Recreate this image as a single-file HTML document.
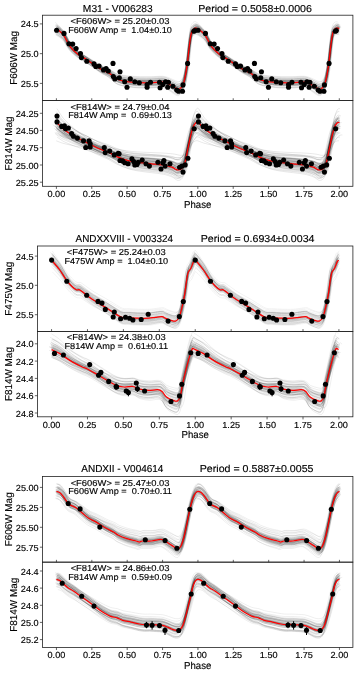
<!DOCTYPE html><html><head><meta charset="utf-8"><style>html,body{margin:0;padding:0;background:#fff;}svg{display:block;will-change:transform;text-rendering:geometricPrecision;}text{font-family:"Liberation Sans",sans-serif;fill:#000;stroke:#000;stroke-width:0.14px;}</style></head><body>
<svg width="357" height="675" viewBox="0 0 357 675">
<rect width="357" height="675" fill="#fff"/>
<defs><filter id="bl" x="-5%" y="-20%" width="110%" height="140%"><feGaussianBlur stdDeviation="0.55"/></filter></defs>
<clipPath id="c00"><rect x="42.45" y="15.2" width="310.45" height="85.35"/></clipPath>
<defs><path id="p00" d="M56.10,28.60 C56.75,29.08 58.62,30.22 60.00,31.50 C61.38,32.78 62.73,33.82 64.40,36.30 C66.07,38.78 67.75,43.42 70.00,46.40 C72.25,49.38 75.10,51.97 77.90,54.20 C80.70,56.43 83.07,57.37 86.80,59.80 C90.53,62.23 96.57,66.55 100.30,68.80 C104.03,71.05 106.25,71.52 109.20,73.30 C112.15,75.08 114.67,78.08 118.00,79.50 C121.33,80.92 125.47,81.27 129.20,81.80 C132.93,82.33 136.67,82.55 140.40,82.70 C144.13,82.85 147.87,82.78 151.60,82.70 C155.33,82.62 159.82,81.90 162.80,82.20 C165.78,82.50 167.45,83.57 169.50,84.50 C171.55,85.43 173.42,87.05 175.10,87.80 C176.78,88.55 178.28,89.55 179.60,89.00 C180.92,88.45 182.10,86.38 183.00,84.50 C183.90,82.62 184.27,81.25 185.00,77.70 C185.73,74.15 186.73,68.05 187.40,63.20 C188.07,58.35 188.42,53.30 189.00,48.60 C189.58,43.90 190.30,38.07 190.90,35.00 C191.50,31.93 191.88,31.33 192.60,30.20 C193.32,29.07 194.38,28.47 195.20,28.20 C196.02,27.93 196.51,28.05 197.55,28.60 C198.59,29.15 200.07,30.22 201.45,31.50 C202.83,32.78 204.18,33.82 205.85,36.30 C207.52,38.78 209.20,43.42 211.45,46.40 C213.70,49.38 216.55,51.97 219.35,54.20 C222.15,56.43 224.52,57.37 228.25,59.80 C231.98,62.23 238.02,66.55 241.75,68.80 C245.48,71.05 247.70,71.52 250.65,73.30 C253.60,75.08 256.12,78.08 259.45,79.50 C262.78,80.92 266.92,81.27 270.65,81.80 C274.38,82.33 278.12,82.55 281.85,82.70 C285.58,82.85 289.32,82.78 293.05,82.70 C296.78,82.62 301.27,81.90 304.25,82.20 C307.23,82.50 308.90,83.57 310.95,84.50 C313.00,85.43 314.87,87.05 316.55,87.80 C318.23,88.55 319.73,89.55 321.05,89.00 C322.37,88.45 323.55,86.38 324.45,84.50 C325.35,82.62 325.72,81.25 326.45,77.70 C327.18,74.15 328.18,68.05 328.85,63.20 C329.52,58.35 329.87,53.30 330.45,48.60 C331.03,43.90 331.75,38.07 332.35,35.00 C332.95,31.93 333.33,31.33 334.05,30.20 C334.77,29.07 335.78,28.47 336.65,28.20 C337.52,27.93 338.82,28.53 339.25,28.60" vector-effect="non-scaling-stroke"/></defs>
<g clip-path="url(#c00)">
<g fill="none" stroke="#000" stroke-width="0.9" stroke-opacity="0.08" filter="url(#bl)"><use href="#p00" transform="translate(0.05,-3.93) scale(1,1.103)"/><use href="#p00" transform="translate(0.03,1.12) scale(1,0.939)"/><use href="#p00" transform="translate(0.16,1.71) scale(1,0.918)"/><use href="#p00" transform="translate(-0.73,-0.14) scale(1,1.011)"/><use href="#p00" transform="translate(-1.20,-0.64) scale(1,1.000)"/><use href="#p00" transform="translate(1.91,-2.44) scale(1,1.043)"/><use href="#p00" transform="translate(0.99,-1.71) scale(1,1.016)"/><use href="#p00" transform="translate(-0.29,0.20) scale(1,1.016)"/><use href="#p00" transform="translate(0.56,0.32) scale(1,1.017)"/><use href="#p00" transform="translate(0.36,-3.05) scale(1,1.010)"/><use href="#p00" transform="translate(0.17,0.44) scale(1,1.006)"/><use href="#p00" transform="translate(0.16,-5.69) scale(1,1.087)"/><use href="#p00" transform="translate(-0.32,-5.58) scale(1,1.053)"/><use href="#p00" transform="translate(-0.07,5.41) scale(1,0.960)"/><use href="#p00" transform="translate(-0.22,-2.44) scale(1,1.052)"/><use href="#p00" transform="translate(-0.33,8.51) scale(1,0.876)"/><use href="#p00" transform="translate(-0.35,-6.22) scale(1,1.057)"/><use href="#p00" transform="translate(-1.04,-3.82) scale(1,1.101)"/><use href="#p00" transform="translate(0.58,5.67) scale(1,0.893)"/><use href="#p00" transform="translate(-0.79,-0.71) scale(1,1.013)"/><use href="#p00" transform="translate(-0.35,-1.24) scale(1,1.047)"/><use href="#p00" transform="translate(0.61,4.85) scale(1,0.885)"/><use href="#p00" transform="translate(-0.79,7.46) scale(1,0.861)"/><use href="#p00" transform="translate(0.01,-0.33) scale(1,0.990)"/><use href="#p00" transform="translate(1.07,-6.78) scale(1,1.120)"/><use href="#p00" transform="translate(0.30,-0.70) scale(1,0.989)"/><use href="#p00" transform="translate(0.13,12.72) scale(1,0.773)"/><use href="#p00" transform="translate(-0.45,6.13) scale(1,0.901)"/><use href="#p00" transform="translate(-0.78,10.64) scale(1,0.803)"/><use href="#p00" transform="translate(1.00,1.67) scale(1,0.958)"/><use href="#p00" transform="translate(0.31,-1.03) scale(1,1.008)"/><use href="#p00" transform="translate(-0.86,10.23) scale(1,0.855)"/><use href="#p00" transform="translate(-0.78,-4.59) scale(1,1.035)"/><use href="#p00" transform="translate(0.56,4.77) scale(1,0.968)"/><use href="#p00" transform="translate(-0.92,1.82) scale(1,0.952)"/><use href="#p00" transform="translate(0.58,-1.37) scale(1,0.997)"/><use href="#p00" transform="translate(-0.67,5.26) scale(1,0.891)"/><use href="#p00" transform="translate(0.10,4.15) scale(1,0.943)"/><use href="#p00" transform="translate(0.92,-1.10) scale(1,1.047)"/><use href="#p00" transform="translate(-1.41,6.90) scale(1,0.890)"/><use href="#p00" transform="translate(-0.15,3.25) scale(1,0.995)"/><use href="#p00" transform="translate(0.01,1.54) scale(1,0.970)"/><use href="#p00" transform="translate(0.87,-1.99) scale(1,1.002)"/><use href="#p00" transform="translate(0.25,-5.05) scale(1,1.071)"/><use href="#p00" transform="translate(0.31,-1.73) scale(1,1.053)"/><use href="#p00" transform="translate(-0.86,-4.23) scale(1,1.056)"/><use href="#p00" transform="translate(0.78,3.66) scale(1,0.960)"/><use href="#p00" transform="translate(0.25,-2.21) scale(1,1.012)"/><use href="#p00" transform="translate(-0.55,-5.86) scale(1,1.133)"/><use href="#p00" transform="translate(-0.91,-2.91) scale(1,0.997)"/><use href="#p00" transform="translate(0.77,-1.34) scale(1,1.015)"/><use href="#p00" transform="translate(1.06,-4.94) scale(1,1.101)"/><use href="#p00" transform="translate(0.40,0.03) scale(1,0.956)"/><use href="#p00" transform="translate(-0.92,-12.42) scale(1,1.214)"/><use href="#p00" transform="translate(-0.83,0.93) scale(1,1.019)"/><use href="#p00" transform="translate(1.02,-5.37) scale(1,1.064)"/><use href="#p00" transform="translate(1.60,-3.63) scale(1,1.063)"/><use href="#p00" transform="translate(1.48,0.18) scale(1,0.967)"/><use href="#p00" transform="translate(-0.03,7.57) scale(1,0.930)"/><use href="#p00" transform="translate(0.10,4.36) scale(1,0.917)"/></g>
<use href="#p00" fill="none" stroke="#f00" stroke-width="1.25"/>
<g fill="#000"><circle cx="56.6" cy="30.2" r="2.55"/><circle cx="64.0" cy="33.4" r="2.55"/><circle cx="68.9" cy="43.7" r="2.55"/><circle cx="72.7" cy="44.1" r="2.55"/><circle cx="76.1" cy="48.6" r="2.55"/><circle cx="80.5" cy="53.5" r="2.55"/><circle cx="81.4" cy="57.6" r="2.55"/><circle cx="86.8" cy="61.2" r="2.55"/><circle cx="94.0" cy="63.9" r="2.55"/><circle cx="95.8" cy="66.5" r="2.55"/><circle cx="99.1" cy="66.1" r="2.55"/><circle cx="103.5" cy="69.9" r="2.55"/><circle cx="106.1" cy="68.6" r="2.55"/><circle cx="108.3" cy="71.0" r="2.55"/><circle cx="113.0" cy="63.4" r="2.55"/><circle cx="113.3" cy="76.6" r="2.55"/><circle cx="114.8" cy="78.9" r="2.55"/><circle cx="119.3" cy="77.7" r="2.55"/><circle cx="120.0" cy="71.7" r="2.55"/><circle cx="124.7" cy="81.8" r="2.55"/><circle cx="127.0" cy="87.2" r="2.55"/><circle cx="130.3" cy="78.9" r="2.55"/><circle cx="134.8" cy="81.8" r="2.55"/><circle cx="139.3" cy="82.7" r="2.55"/><circle cx="147.1" cy="84.5" r="2.55"/><circle cx="147.1" cy="87.2" r="2.55"/><circle cx="150.5" cy="82.2" r="2.55"/><circle cx="159.5" cy="82.2" r="2.55"/><circle cx="160.1" cy="87.8" r="2.55"/><circle cx="162.8" cy="84.5" r="2.55"/><circle cx="165.5" cy="81.8" r="2.55"/><circle cx="168.4" cy="82.2" r="2.55"/><circle cx="167.7" cy="87.2" r="2.55"/><circle cx="172.9" cy="86.3" r="2.55"/><circle cx="176.7" cy="90.1" r="2.55"/><circle cx="178.5" cy="91.2" r="2.55"/><circle cx="182.5" cy="91.2" r="2.55"/><circle cx="183.0" cy="84.9" r="2.55"/><circle cx="187.6" cy="63.4" r="2.55"/><circle cx="193.9" cy="31.3" r="2.55"/><circle cx="194.9" cy="30.5" r="2.55"/></g><g fill="#000" transform="translate(141.45,0)"><circle cx="56.6" cy="30.2" r="2.55"/><circle cx="64.0" cy="33.4" r="2.55"/><circle cx="68.9" cy="43.7" r="2.55"/><circle cx="72.7" cy="44.1" r="2.55"/><circle cx="76.1" cy="48.6" r="2.55"/><circle cx="80.5" cy="53.5" r="2.55"/><circle cx="81.4" cy="57.6" r="2.55"/><circle cx="86.8" cy="61.2" r="2.55"/><circle cx="94.0" cy="63.9" r="2.55"/><circle cx="95.8" cy="66.5" r="2.55"/><circle cx="99.1" cy="66.1" r="2.55"/><circle cx="103.5" cy="69.9" r="2.55"/><circle cx="106.1" cy="68.6" r="2.55"/><circle cx="108.3" cy="71.0" r="2.55"/><circle cx="113.0" cy="63.4" r="2.55"/><circle cx="113.3" cy="76.6" r="2.55"/><circle cx="114.8" cy="78.9" r="2.55"/><circle cx="119.3" cy="77.7" r="2.55"/><circle cx="120.0" cy="71.7" r="2.55"/><circle cx="124.7" cy="81.8" r="2.55"/><circle cx="127.0" cy="87.2" r="2.55"/><circle cx="130.3" cy="78.9" r="2.55"/><circle cx="134.8" cy="81.8" r="2.55"/><circle cx="139.3" cy="82.7" r="2.55"/><circle cx="147.1" cy="84.5" r="2.55"/><circle cx="147.1" cy="87.2" r="2.55"/><circle cx="150.5" cy="82.2" r="2.55"/><circle cx="159.5" cy="82.2" r="2.55"/><circle cx="160.1" cy="87.8" r="2.55"/><circle cx="162.8" cy="84.5" r="2.55"/><circle cx="165.5" cy="81.8" r="2.55"/><circle cx="168.4" cy="82.2" r="2.55"/><circle cx="167.7" cy="87.2" r="2.55"/><circle cx="172.9" cy="86.3" r="2.55"/><circle cx="176.7" cy="90.1" r="2.55"/><circle cx="178.5" cy="91.2" r="2.55"/><circle cx="182.5" cy="91.2" r="2.55"/><circle cx="183.0" cy="84.9" r="2.55"/><circle cx="187.6" cy="63.4" r="2.55"/><circle cx="193.9" cy="31.3" r="2.55"/><circle cx="194.9" cy="30.5" r="2.55"/></g>
</g>
<text x="120.06" y="24.20" font-size="8.67" textLength="98.89" lengthAdjust="spacingAndGlyphs" text-anchor="middle" xml:space="preserve">&lt;F606W&gt; = 25.20±0.03</text>
<text x="120.06" y="33.10" font-size="8.67" textLength="103.75" lengthAdjust="spacingAndGlyphs" text-anchor="middle" xml:space="preserve">F606W Amp =  1.04±0.10</text>
<line x1="39.85" y1="23.9" x2="42.45" y2="23.9" stroke="#222" stroke-width="0.7"/>
<text x="38.65" y="27.40" font-size="8.80" textLength="17.81" lengthAdjust="spacingAndGlyphs" text-anchor="end" xml:space="preserve">24.5</text>
<line x1="39.85" y1="53.65" x2="42.45" y2="53.65" stroke="#222" stroke-width="0.7"/>
<text x="38.65" y="57.15" font-size="8.80" textLength="17.81" lengthAdjust="spacingAndGlyphs" text-anchor="end" xml:space="preserve">25.0</text>
<line x1="39.85" y1="83.4" x2="42.45" y2="83.4" stroke="#222" stroke-width="0.7"/>
<text x="38.65" y="86.90" font-size="8.80" textLength="17.81" lengthAdjust="spacingAndGlyphs" text-anchor="end" xml:space="preserve">25.5</text>
<text x="0.00" y="0.00" font-size="10.07" textLength="53.99" lengthAdjust="spacingAndGlyphs" text-anchor="middle" transform="translate(17.00,57.88) rotate(-90)" xml:space="preserve">F606W Mag</text>
<rect x="42.45" y="15.2" width="310.45" height="85.35" fill="none" stroke="#222" stroke-width="0.8"/>
<clipPath id="c01"><rect x="42.45" y="100.55" width="310.45" height="85.75000000000001"/></clipPath>
<defs><path id="p01" d="M56.55,122.30 C57.21,123.00 59.19,125.22 60.50,126.50 C61.81,127.78 61.88,128.25 64.40,130.00 C66.92,131.75 71.87,134.90 75.60,137.00 C79.33,139.10 83.07,140.73 86.80,142.60 C90.53,144.47 94.27,146.53 98.00,148.20 C101.73,149.87 105.87,151.12 109.20,152.60 C112.53,154.08 114.67,155.72 118.00,157.10 C121.33,158.48 125.47,159.97 129.20,160.90 C132.93,161.83 136.67,162.22 140.40,162.70 C144.13,163.18 147.87,163.42 151.60,163.80 C155.33,164.18 159.43,164.43 162.80,165.00 C166.17,165.57 169.37,166.38 171.80,167.20 C174.23,168.02 175.72,169.72 177.40,169.90 C179.08,170.08 180.60,169.68 181.90,168.30 C183.20,166.92 184.25,164.63 185.20,161.60 C186.15,158.57 186.67,154.50 187.60,150.10 C188.53,145.70 189.92,138.93 190.80,135.20 C191.68,131.47 192.10,129.73 192.90,127.70 C193.70,125.67 194.75,123.90 195.60,123.00 C196.45,122.10 196.94,121.72 198.00,122.30 C199.06,122.88 200.64,125.22 201.95,126.50 C203.26,127.78 203.33,128.25 205.85,130.00 C208.37,131.75 213.32,134.90 217.05,137.00 C220.78,139.10 224.52,140.73 228.25,142.60 C231.98,144.47 235.72,146.53 239.45,148.20 C243.18,149.87 247.32,151.12 250.65,152.60 C253.98,154.08 256.12,155.72 259.45,157.10 C262.78,158.48 266.92,159.97 270.65,160.90 C274.38,161.83 278.12,162.22 281.85,162.70 C285.58,163.18 289.32,163.42 293.05,163.80 C296.78,164.18 300.88,164.43 304.25,165.00 C307.62,165.57 310.82,166.38 313.25,167.20 C315.68,168.02 317.17,169.72 318.85,169.90 C320.53,170.08 322.05,169.68 323.35,168.30 C324.65,166.92 325.70,164.63 326.65,161.60 C327.60,158.57 328.12,154.50 329.05,150.10 C329.98,145.70 331.37,138.93 332.25,135.20 C333.13,131.47 333.55,129.73 334.35,127.70 C335.15,125.67 336.20,123.90 337.05,123.00 C337.90,122.10 339.05,122.42 339.45,122.30" vector-effect="non-scaling-stroke"/></defs>
<g clip-path="url(#c01)">
<g fill="none" stroke="#000" stroke-width="0.9" stroke-opacity="0.1" filter="url(#bl)"><use href="#p01" transform="translate(0.39,-70.94) scale(1,1.468)"/><use href="#p01" transform="translate(-1.40,-2.11) scale(1,1.029)"/><use href="#p01" transform="translate(-1.07,9.22) scale(1,0.917)"/><use href="#p01" transform="translate(-0.29,22.52) scale(1,0.831)"/><use href="#p01" transform="translate(-0.55,27.34) scale(1,0.819)"/><use href="#p01" transform="translate(-0.39,96.75) scale(1,0.360)"/><use href="#p01" transform="translate(0.23,22.08) scale(1,0.851)"/><use href="#p01" transform="translate(0.19,-4.78) scale(1,1.011)"/><use href="#p01" transform="translate(-1.27,49.04) scale(1,0.693)"/><use href="#p01" transform="translate(0.22,5.60) scale(1,0.959)"/><use href="#p01" transform="translate(-3.63,8.25) scale(1,0.951)"/><use href="#p01" transform="translate(-0.56,5.41) scale(1,0.953)"/><use href="#p01" transform="translate(-0.21,-44.97) scale(1,1.280)"/><use href="#p01" transform="translate(-1.76,63.28) scale(1,0.567)"/><use href="#p01" transform="translate(0.58,56.58) scale(1,0.658)"/><use href="#p01" transform="translate(-1.58,3.74) scale(1,0.972)"/><use href="#p01" transform="translate(-2.27,35.32) scale(1,0.761)"/><use href="#p01" transform="translate(-0.01,-10.71) scale(1,1.029)"/><use href="#p01" transform="translate(0.90,41.53) scale(1,0.748)"/><use href="#p01" transform="translate(-0.93,12.09) scale(1,0.869)"/><use href="#p01" transform="translate(0.16,1.39) scale(1,0.962)"/><use href="#p01" transform="translate(-0.57,-26.59) scale(1,1.174)"/><use href="#p01" transform="translate(0.73,-21.21) scale(1,1.132)"/><use href="#p01" transform="translate(-0.41,17.62) scale(1,0.909)"/><use href="#p01" transform="translate(-0.77,34.67) scale(1,0.759)"/><use href="#p01" transform="translate(0.63,30.35) scale(1,0.783)"/><use href="#p01" transform="translate(-0.28,66.91) scale(1,0.535)"/><use href="#p01" transform="translate(-1.45,9.79) scale(1,0.945)"/><use href="#p01" transform="translate(-0.01,-17.57) scale(1,1.109)"/><use href="#p01" transform="translate(-0.65,8.20) scale(1,0.930)"/><use href="#p01" transform="translate(0.95,-2.77) scale(1,1.060)"/><use href="#p01" transform="translate(-0.60,-21.04) scale(1,1.151)"/><use href="#p01" transform="translate(-1.41,-8.91) scale(1,1.101)"/><use href="#p01" transform="translate(0.19,-19.14) scale(1,1.148)"/><use href="#p01" transform="translate(2.16,-16.87) scale(1,1.141)"/><use href="#p01" transform="translate(0.26,-31.55) scale(1,1.247)"/><use href="#p01" transform="translate(0.23,-22.43) scale(1,1.152)"/><use href="#p01" transform="translate(1.40,17.23) scale(1,0.892)"/><use href="#p01" transform="translate(0.57,6.66) scale(1,0.955)"/><use href="#p01" transform="translate(0.21,3.41) scale(1,0.993)"/><use href="#p01" transform="translate(0.69,32.06) scale(1,0.753)"/><use href="#p01" transform="translate(0.21,-14.36) scale(1,1.118)"/><use href="#p01" transform="translate(1.37,-10.53) scale(1,1.033)"/><use href="#p01" transform="translate(-1.19,31.08) scale(1,0.806)"/><use href="#p01" transform="translate(-0.46,20.48) scale(1,0.859)"/><use href="#p01" transform="translate(0.65,23.88) scale(1,0.852)"/><use href="#p01" transform="translate(-0.86,-12.46) scale(1,1.074)"/><use href="#p01" transform="translate(-0.05,12.58) scale(1,0.898)"/><use href="#p01" transform="translate(-0.82,-23.03) scale(1,1.150)"/><use href="#p01" transform="translate(0.14,22.41) scale(1,0.871)"/><use href="#p01" transform="translate(0.58,-6.00) scale(1,1.043)"/><use href="#p01" transform="translate(0.80,-0.38) scale(1,1.025)"/><use href="#p01" transform="translate(2.95,82.61) scale(1,0.428)"/><use href="#p01" transform="translate(1.08,37.81) scale(1,0.740)"/><use href="#p01" transform="translate(-1.28,3.97) scale(1,0.999)"/><use href="#p01" transform="translate(-0.75,35.77) scale(1,0.748)"/><use href="#p01" transform="translate(0.27,32.94) scale(1,0.784)"/><use href="#p01" transform="translate(0.26,-2.04) scale(1,1.002)"/><use href="#p01" transform="translate(0.51,0.72) scale(1,0.976)"/><use href="#p01" transform="translate(0.70,-11.10) scale(1,1.074)"/></g>
<use href="#p01" fill="none" stroke="#f00" stroke-width="1.25"/>
<g fill="#000"><circle cx="57.0" cy="116.1" r="2.55"/><circle cx="57.0" cy="121.9" r="2.55"/><circle cx="61.7" cy="126.4" r="2.55"/><circle cx="64.4" cy="125.8" r="2.55"/><circle cx="65.5" cy="128.7" r="2.55"/><circle cx="68.4" cy="128.0" r="2.55"/><circle cx="71.6" cy="133.6" r="2.55"/><circle cx="73.4" cy="136.3" r="2.55"/><circle cx="77.4" cy="138.1" r="2.55"/><circle cx="83.5" cy="140.8" r="2.55"/><circle cx="85.7" cy="147.5" r="2.55"/><circle cx="89.1" cy="140.8" r="2.55"/><circle cx="90.2" cy="143.7" r="2.55"/><circle cx="90.2" cy="147.0" r="2.55"/><circle cx="104.3" cy="147.5" r="2.55"/><circle cx="105.2" cy="152.6" r="2.55"/><circle cx="109.7" cy="151.1" r="2.55"/><circle cx="114.2" cy="154.9" r="2.55"/><circle cx="118.2" cy="153.3" r="2.55"/><circle cx="120.0" cy="160.5" r="2.55"/><circle cx="119.1" cy="153.8" r="2.55"/><circle cx="122.5" cy="160.9" r="2.55"/><circle cx="124.7" cy="162.7" r="2.55"/><circle cx="128.1" cy="163.8" r="2.55"/><circle cx="131.9" cy="158.7" r="2.55"/><circle cx="133.7" cy="161.6" r="2.55"/><circle cx="134.8" cy="164.9" r="2.55"/><circle cx="137.0" cy="164.5" r="2.55"/><circle cx="138.2" cy="162.3" r="2.55"/><circle cx="142.2" cy="160.0" r="2.55"/><circle cx="146.0" cy="163.8" r="2.55"/><circle cx="149.4" cy="166.1" r="2.55"/><circle cx="157.9" cy="162.3" r="2.55"/><circle cx="161.0" cy="169.0" r="2.55"/><circle cx="162.8" cy="162.7" r="2.55"/><circle cx="163.9" cy="160.5" r="2.55"/><circle cx="165.1" cy="166.1" r="2.55"/><circle cx="170.0" cy="163.8" r="2.55"/><circle cx="179.6" cy="167.2" r="2.55"/><circle cx="181.9" cy="166.1" r="2.55"/><circle cx="185.2" cy="164.9" r="2.55"/><circle cx="183.0" cy="172.1" r="2.55"/><circle cx="187.9" cy="158.2" r="2.55"/><circle cx="194.2" cy="128.7" r="2.55"/></g><g fill="#000" transform="translate(141.45,0)"><circle cx="57.0" cy="116.1" r="2.55"/><circle cx="57.0" cy="121.9" r="2.55"/><circle cx="61.7" cy="126.4" r="2.55"/><circle cx="64.4" cy="125.8" r="2.55"/><circle cx="65.5" cy="128.7" r="2.55"/><circle cx="68.4" cy="128.0" r="2.55"/><circle cx="71.6" cy="133.6" r="2.55"/><circle cx="73.4" cy="136.3" r="2.55"/><circle cx="77.4" cy="138.1" r="2.55"/><circle cx="83.5" cy="140.8" r="2.55"/><circle cx="85.7" cy="147.5" r="2.55"/><circle cx="89.1" cy="140.8" r="2.55"/><circle cx="90.2" cy="143.7" r="2.55"/><circle cx="90.2" cy="147.0" r="2.55"/><circle cx="104.3" cy="147.5" r="2.55"/><circle cx="105.2" cy="152.6" r="2.55"/><circle cx="109.7" cy="151.1" r="2.55"/><circle cx="114.2" cy="154.9" r="2.55"/><circle cx="118.2" cy="153.3" r="2.55"/><circle cx="120.0" cy="160.5" r="2.55"/><circle cx="119.1" cy="153.8" r="2.55"/><circle cx="122.5" cy="160.9" r="2.55"/><circle cx="124.7" cy="162.7" r="2.55"/><circle cx="128.1" cy="163.8" r="2.55"/><circle cx="131.9" cy="158.7" r="2.55"/><circle cx="133.7" cy="161.6" r="2.55"/><circle cx="134.8" cy="164.9" r="2.55"/><circle cx="137.0" cy="164.5" r="2.55"/><circle cx="138.2" cy="162.3" r="2.55"/><circle cx="142.2" cy="160.0" r="2.55"/><circle cx="146.0" cy="163.8" r="2.55"/><circle cx="149.4" cy="166.1" r="2.55"/><circle cx="157.9" cy="162.3" r="2.55"/><circle cx="161.0" cy="169.0" r="2.55"/><circle cx="162.8" cy="162.7" r="2.55"/><circle cx="163.9" cy="160.5" r="2.55"/><circle cx="165.1" cy="166.1" r="2.55"/><circle cx="170.0" cy="163.8" r="2.55"/><circle cx="179.6" cy="167.2" r="2.55"/><circle cx="181.9" cy="166.1" r="2.55"/><circle cx="185.2" cy="164.9" r="2.55"/><circle cx="183.0" cy="172.1" r="2.55"/><circle cx="187.9" cy="158.2" r="2.55"/><circle cx="194.2" cy="128.7" r="2.55"/></g>
</g>
<text x="120.06" y="109.55" font-size="8.67" textLength="98.89" lengthAdjust="spacingAndGlyphs" text-anchor="middle" xml:space="preserve">&lt;F814W&gt; = 24.79±0.04</text>
<text x="120.06" y="118.45" font-size="8.67" textLength="103.75" lengthAdjust="spacingAndGlyphs" text-anchor="middle" xml:space="preserve">F814W Amp =  0.69±0.13</text>
<line x1="39.85" y1="113.3" x2="42.45" y2="113.3" stroke="#222" stroke-width="0.7"/>
<text x="38.65" y="116.80" font-size="8.80" textLength="22.90" lengthAdjust="spacingAndGlyphs" text-anchor="end" xml:space="preserve">24.25</text>
<line x1="39.85" y1="130.4" x2="42.45" y2="130.4" stroke="#222" stroke-width="0.7"/>
<text x="38.65" y="133.90" font-size="8.80" textLength="22.90" lengthAdjust="spacingAndGlyphs" text-anchor="end" xml:space="preserve">24.50</text>
<line x1="39.85" y1="147.7" x2="42.45" y2="147.7" stroke="#222" stroke-width="0.7"/>
<text x="38.65" y="151.20" font-size="8.80" textLength="22.90" lengthAdjust="spacingAndGlyphs" text-anchor="end" xml:space="preserve">24.75</text>
<line x1="39.85" y1="165.0" x2="42.45" y2="165.0" stroke="#222" stroke-width="0.7"/>
<text x="38.65" y="168.50" font-size="8.80" textLength="22.90" lengthAdjust="spacingAndGlyphs" text-anchor="end" xml:space="preserve">25.00</text>
<line x1="39.85" y1="182.2" x2="42.45" y2="182.2" stroke="#222" stroke-width="0.7"/>
<text x="38.65" y="185.70" font-size="8.80" textLength="22.90" lengthAdjust="spacingAndGlyphs" text-anchor="end" xml:space="preserve">25.25</text>
<text x="0.00" y="0.00" font-size="10.07" textLength="53.99" lengthAdjust="spacingAndGlyphs" text-anchor="middle" transform="translate(11.60,143.43) rotate(-90)" xml:space="preserve">F814W Mag</text>
<rect x="42.45" y="100.55" width="310.45" height="85.75" fill="none" stroke="#222" stroke-width="0.8"/>
<line x1="56.40" y1="98.25" x2="56.40" y2="100.55" stroke="#222" stroke-width="0.7"/>
<line x1="91.76" y1="98.25" x2="91.76" y2="100.55" stroke="#222" stroke-width="0.7"/>
<line x1="127.12" y1="98.25" x2="127.12" y2="100.55" stroke="#222" stroke-width="0.7"/>
<line x1="162.49" y1="98.25" x2="162.49" y2="100.55" stroke="#222" stroke-width="0.7"/>
<line x1="197.85" y1="98.25" x2="197.85" y2="100.55" stroke="#222" stroke-width="0.7"/>
<line x1="233.21" y1="98.25" x2="233.21" y2="100.55" stroke="#222" stroke-width="0.7"/>
<line x1="268.57" y1="98.25" x2="268.57" y2="100.55" stroke="#222" stroke-width="0.7"/>
<line x1="303.94" y1="98.25" x2="303.94" y2="100.55" stroke="#222" stroke-width="0.7"/>
<line x1="339.30" y1="98.25" x2="339.30" y2="100.55" stroke="#222" stroke-width="0.7"/>
<line x1="56.40" y1="186.3" x2="56.40" y2="188.9" stroke="#222" stroke-width="0.7"/>
<text x="56.40" y="197.10" font-size="8.80" textLength="17.81" lengthAdjust="spacingAndGlyphs" text-anchor="middle" xml:space="preserve">0.00</text>
<line x1="91.76" y1="186.3" x2="91.76" y2="188.9" stroke="#222" stroke-width="0.7"/>
<text x="91.76" y="197.10" font-size="8.80" textLength="17.81" lengthAdjust="spacingAndGlyphs" text-anchor="middle" xml:space="preserve">0.25</text>
<line x1="127.12" y1="186.3" x2="127.12" y2="188.9" stroke="#222" stroke-width="0.7"/>
<text x="127.12" y="197.10" font-size="8.80" textLength="17.81" lengthAdjust="spacingAndGlyphs" text-anchor="middle" xml:space="preserve">0.50</text>
<line x1="162.49" y1="186.3" x2="162.49" y2="188.9" stroke="#222" stroke-width="0.7"/>
<text x="162.49" y="197.10" font-size="8.80" textLength="17.81" lengthAdjust="spacingAndGlyphs" text-anchor="middle" xml:space="preserve">0.75</text>
<line x1="197.85" y1="186.3" x2="197.85" y2="188.9" stroke="#222" stroke-width="0.7"/>
<text x="197.85" y="197.10" font-size="8.80" textLength="17.81" lengthAdjust="spacingAndGlyphs" text-anchor="middle" xml:space="preserve">1.00</text>
<line x1="233.21" y1="186.3" x2="233.21" y2="188.9" stroke="#222" stroke-width="0.7"/>
<text x="233.21" y="197.10" font-size="8.80" textLength="17.81" lengthAdjust="spacingAndGlyphs" text-anchor="middle" xml:space="preserve">1.25</text>
<line x1="268.57" y1="186.3" x2="268.57" y2="188.9" stroke="#222" stroke-width="0.7"/>
<text x="268.57" y="197.10" font-size="8.80" textLength="17.81" lengthAdjust="spacingAndGlyphs" text-anchor="middle" xml:space="preserve">1.50</text>
<line x1="303.94" y1="186.3" x2="303.94" y2="188.9" stroke="#222" stroke-width="0.7"/>
<text x="303.94" y="197.10" font-size="8.80" textLength="17.81" lengthAdjust="spacingAndGlyphs" text-anchor="middle" xml:space="preserve">1.75</text>
<line x1="339.30" y1="186.3" x2="339.30" y2="188.9" stroke="#222" stroke-width="0.7"/>
<text x="339.30" y="197.10" font-size="8.80" textLength="17.81" lengthAdjust="spacingAndGlyphs" text-anchor="middle" xml:space="preserve">2.00</text>
<text x="197.67" y="207.90" font-size="10.07" textLength="27.32" lengthAdjust="spacingAndGlyphs" text-anchor="middle" xml:space="preserve">Phase</text>
<text x="82.88" y="11.60" font-size="10.07" textLength="69.85" lengthAdjust="spacingAndGlyphs" xml:space="preserve">M31 - V006283</text>
<text x="198.18" y="11.60" font-size="10.07" textLength="113.71" lengthAdjust="spacingAndGlyphs" xml:space="preserve">Period = 0.5058±0.0006</text>
<clipPath id="c10"><rect x="37.45" y="246.0" width="315.45" height="85.39999999999998"/></clipPath>
<defs><path id="p10" d="M51.60,260.20 C52.90,261.75 56.98,266.27 59.40,269.50 C61.82,272.73 64.05,276.80 66.10,279.60 C68.15,282.40 70.02,284.62 71.70,286.30 C73.38,287.98 74.88,289.10 76.20,289.70 C77.52,290.30 78.30,289.33 79.60,289.90 C80.90,290.47 81.77,291.45 84.00,293.10 C86.23,294.75 89.63,297.57 93.00,299.80 C96.37,302.03 100.53,304.22 104.20,306.50 C107.87,308.78 112.08,311.70 115.00,313.50 C117.92,315.30 119.47,316.60 121.70,317.30 C123.93,318.00 125.78,317.55 128.40,317.70 C131.02,317.85 134.03,318.12 137.40,318.20 C140.77,318.28 145.62,318.35 148.60,318.20 C151.58,318.05 153.07,317.57 155.30,317.30 C157.53,317.03 160.32,316.45 162.00,316.60 C163.68,316.75 163.90,317.57 165.40,318.20 C166.90,318.83 169.32,319.92 171.00,320.40 C172.68,320.88 174.18,321.55 175.50,321.10 C176.82,320.65 177.97,319.38 178.90,317.70 C179.83,316.02 180.17,314.73 181.10,311.00 C182.03,307.27 183.60,300.30 184.50,295.30 C185.40,290.30 185.90,284.78 186.50,281.00 C187.10,277.22 187.37,274.73 188.10,272.60 C188.83,270.47 189.97,270.07 190.90,268.20 C191.83,266.33 192.97,262.73 193.70,261.40 C194.43,260.07 193.72,258.85 195.28,260.20 C196.84,261.55 200.66,266.27 203.08,269.50 C205.50,272.73 207.73,276.80 209.78,279.60 C211.83,282.40 213.70,284.62 215.38,286.30 C217.06,287.98 218.56,289.10 219.88,289.70 C221.20,290.30 221.98,289.33 223.28,289.90 C224.58,290.47 225.45,291.45 227.68,293.10 C229.91,294.75 233.31,297.57 236.68,299.80 C240.05,302.03 244.21,304.22 247.88,306.50 C251.55,308.78 255.76,311.70 258.68,313.50 C261.60,315.30 263.15,316.60 265.38,317.30 C267.61,318.00 269.46,317.55 272.08,317.70 C274.70,317.85 277.71,318.12 281.08,318.20 C284.45,318.28 289.30,318.35 292.28,318.20 C295.26,318.05 296.75,317.57 298.98,317.30 C301.21,317.03 304.00,316.45 305.68,316.60 C307.36,316.75 307.58,317.57 309.08,318.20 C310.58,318.83 313.00,319.92 314.68,320.40 C316.36,320.88 317.86,321.55 319.18,321.10 C320.50,320.65 321.65,319.38 322.58,317.70 C323.51,316.02 323.85,314.73 324.78,311.00 C325.71,307.27 327.28,300.30 328.18,295.30 C329.08,290.30 329.58,284.78 330.18,281.00 C330.78,277.22 331.05,274.73 331.78,272.60 C332.51,270.47 333.65,270.07 334.58,268.20 C335.51,266.33 336.69,262.73 337.38,261.40 C338.07,260.07 338.50,260.40 338.73,260.20" vector-effect="non-scaling-stroke"/></defs>
<g clip-path="url(#c10)">
<g fill="none" stroke="#000" stroke-width="0.9" stroke-opacity="0.06" filter="url(#bl)"><use href="#p10" transform="translate(0.80,28.44) scale(1,0.902)"/><use href="#p10" transform="translate(-0.05,7.48) scale(1,0.959)"/><use href="#p10" transform="translate(-0.97,-9.26) scale(1,1.038)"/><use href="#p10" transform="translate(0.38,30.90) scale(1,0.897)"/><use href="#p10" transform="translate(-0.08,-34.11) scale(1,1.123)"/><use href="#p10" transform="translate(-0.23,12.06) scale(1,0.978)"/><use href="#p10" transform="translate(0.08,14.29) scale(1,0.937)"/><use href="#p10" transform="translate(-0.05,-5.28) scale(1,1.012)"/><use href="#p10" transform="translate(0.88,-5.55) scale(1,1.022)"/><use href="#p10" transform="translate(0.56,-10.53) scale(1,1.017)"/><use href="#p10" transform="translate(-1.18,31.57) scale(1,0.886)"/><use href="#p10" transform="translate(0.17,-3.07) scale(1,1.000)"/><use href="#p10" transform="translate(0.67,-77.87) scale(1,1.264)"/><use href="#p10" transform="translate(0.53,29.02) scale(1,0.894)"/><use href="#p10" transform="translate(0.08,2.12) scale(1,0.993)"/><use href="#p10" transform="translate(-0.65,23.86) scale(1,0.920)"/><use href="#p10" transform="translate(0.55,-45.84) scale(1,1.150)"/><use href="#p10" transform="translate(-0.48,1.42) scale(1,1.000)"/><use href="#p10" transform="translate(1.01,-24.55) scale(1,1.080)"/><use href="#p10" transform="translate(-0.62,-15.15) scale(1,1.050)"/><use href="#p10" transform="translate(1.31,-17.64) scale(1,1.061)"/><use href="#p10" transform="translate(0.41,9.21) scale(1,0.970)"/><use href="#p10" transform="translate(0.15,-7.04) scale(1,1.023)"/><use href="#p10" transform="translate(-0.32,10.28) scale(1,0.952)"/><use href="#p10" transform="translate(0.78,-10.81) scale(1,1.047)"/><use href="#p10" transform="translate(0.56,-23.47) scale(1,1.084)"/><use href="#p10" transform="translate(1.42,-3.26) scale(1,1.015)"/><use href="#p10" transform="translate(1.57,4.81) scale(1,0.974)"/><use href="#p10" transform="translate(0.70,-4.16) scale(1,1.020)"/><use href="#p10" transform="translate(1.42,31.74) scale(1,0.909)"/><use href="#p10" transform="translate(0.10,-3.16) scale(1,1.014)"/><use href="#p10" transform="translate(0.30,19.27) scale(1,0.929)"/><use href="#p10" transform="translate(0.05,-25.10) scale(1,1.089)"/><use href="#p10" transform="translate(0.63,-34.48) scale(1,1.108)"/><use href="#p10" transform="translate(-1.43,-27.62) scale(1,1.089)"/><use href="#p10" transform="translate(0.42,20.69) scale(1,0.927)"/><use href="#p10" transform="translate(0.00,-39.61) scale(1,1.124)"/><use href="#p10" transform="translate(-1.90,-16.50) scale(1,1.052)"/><use href="#p10" transform="translate(0.80,-13.74) scale(1,1.065)"/><use href="#p10" transform="translate(0.18,19.26) scale(1,0.927)"/><use href="#p10" transform="translate(0.09,-57.27) scale(1,1.199)"/><use href="#p10" transform="translate(1.49,-37.43) scale(1,1.125)"/><use href="#p10" transform="translate(0.58,13.69) scale(1,0.945)"/><use href="#p10" transform="translate(0.24,-32.42) scale(1,1.114)"/><use href="#p10" transform="translate(-0.49,39.50) scale(1,0.854)"/><use href="#p10" transform="translate(-0.27,12.93) scale(1,0.957)"/><use href="#p10" transform="translate(-0.27,-19.10) scale(1,1.063)"/><use href="#p10" transform="translate(0.69,-2.63) scale(1,1.009)"/><use href="#p10" transform="translate(-1.09,9.50) scale(1,0.962)"/><use href="#p10" transform="translate(-0.14,-34.52) scale(1,1.128)"/><use href="#p10" transform="translate(0.14,6.91) scale(1,0.962)"/><use href="#p10" transform="translate(0.20,-0.12) scale(1,1.017)"/><use href="#p10" transform="translate(1.13,10.73) scale(1,0.938)"/><use href="#p10" transform="translate(0.14,-9.59) scale(1,1.015)"/><use href="#p10" transform="translate(0.90,45.45) scale(1,0.871)"/><use href="#p10" transform="translate(-1.71,-14.77) scale(1,1.046)"/><use href="#p10" transform="translate(0.48,-2.10) scale(1,0.990)"/><use href="#p10" transform="translate(0.98,46.37) scale(1,0.829)"/><use href="#p10" transform="translate(-1.23,-42.29) scale(1,1.132)"/><use href="#p10" transform="translate(-0.79,-19.23) scale(1,1.070)"/></g>
<use href="#p10" fill="none" stroke="#f00" stroke-width="1.25"/>
<g fill="#000"><circle cx="51.6" cy="260.1" r="2.55"/><circle cx="66.8" cy="281.2" r="2.55"/><circle cx="86.7" cy="295.3" r="2.55"/><circle cx="98.0" cy="301.4" r="2.55"/><circle cx="102.0" cy="303.1" r="2.55"/><circle cx="105.3" cy="309.4" r="2.55"/><circle cx="113.2" cy="317.0" r="2.55"/><circle cx="114.3" cy="312.1" r="2.55"/><circle cx="120.6" cy="318.8" r="2.55"/><circle cx="125.5" cy="317.3" r="2.55"/><circle cx="129.6" cy="318.2" r="2.55"/><circle cx="132.9" cy="320.0" r="2.55"/><circle cx="141.2" cy="319.5" r="2.55"/><circle cx="148.2" cy="314.3" r="2.55"/><circle cx="168.1" cy="321.1" r="2.55"/><circle cx="179.3" cy="316.6" r="2.55"/><circle cx="183.3" cy="301.6" r="2.55"/></g><g fill="#000" transform="translate(143.68,0)"><circle cx="51.6" cy="260.1" r="2.55"/><circle cx="66.8" cy="281.2" r="2.55"/><circle cx="86.7" cy="295.3" r="2.55"/><circle cx="98.0" cy="301.4" r="2.55"/><circle cx="102.0" cy="303.1" r="2.55"/><circle cx="105.3" cy="309.4" r="2.55"/><circle cx="113.2" cy="317.0" r="2.55"/><circle cx="114.3" cy="312.1" r="2.55"/><circle cx="120.6" cy="318.8" r="2.55"/><circle cx="125.5" cy="317.3" r="2.55"/><circle cx="129.6" cy="318.2" r="2.55"/><circle cx="132.9" cy="320.0" r="2.55"/><circle cx="141.2" cy="319.5" r="2.55"/><circle cx="148.2" cy="314.3" r="2.55"/><circle cx="168.1" cy="321.1" r="2.55"/><circle cx="179.3" cy="316.6" r="2.55"/><circle cx="183.3" cy="301.6" r="2.55"/></g>
</g>
<text x="116.31" y="255.00" font-size="8.67" textLength="98.89" lengthAdjust="spacingAndGlyphs" text-anchor="middle" xml:space="preserve">&lt;F475W&gt; = 25.24±0.03</text>
<text x="116.31" y="263.90" font-size="8.67" textLength="103.75" lengthAdjust="spacingAndGlyphs" text-anchor="middle" xml:space="preserve">F475W Amp =  1.04±0.10</text>
<line x1="34.85" y1="256.1" x2="37.45" y2="256.1" stroke="#222" stroke-width="0.7"/>
<text x="33.65" y="259.60" font-size="8.80" textLength="17.81" lengthAdjust="spacingAndGlyphs" text-anchor="end" xml:space="preserve">24.5</text>
<line x1="34.85" y1="285.3" x2="37.45" y2="285.3" stroke="#222" stroke-width="0.7"/>
<text x="33.65" y="288.80" font-size="8.80" textLength="17.81" lengthAdjust="spacingAndGlyphs" text-anchor="end" xml:space="preserve">25.0</text>
<line x1="34.85" y1="314.7" x2="37.45" y2="314.7" stroke="#222" stroke-width="0.7"/>
<text x="33.65" y="318.20" font-size="8.80" textLength="17.81" lengthAdjust="spacingAndGlyphs" text-anchor="end" xml:space="preserve">25.5</text>
<text x="0.00" y="0.00" font-size="10.07" textLength="53.99" lengthAdjust="spacingAndGlyphs" text-anchor="middle" transform="translate(12.00,288.70) rotate(-90)" xml:space="preserve">F475W Mag</text>
<rect x="37.45" y="246.0" width="315.45" height="85.40" fill="none" stroke="#222" stroke-width="0.8"/>
<clipPath id="c11"><rect x="37.45" y="331.4" width="315.45" height="85.40000000000003"/></clipPath>
<defs><path id="p11" d="M51.60,349.60 C52.90,350.23 56.23,351.52 59.40,353.40 C62.57,355.28 66.87,358.68 70.60,360.90 C74.33,363.12 79.00,365.35 81.80,366.70 C84.60,368.05 85.15,367.88 87.40,369.00 C89.65,370.12 92.50,371.77 95.30,373.40 C98.10,375.03 100.92,376.90 104.20,378.80 C107.48,380.70 111.70,383.43 115.00,384.80 C118.30,386.17 121.02,386.72 124.00,387.00 C126.98,387.28 130.30,386.13 132.90,386.50 C135.50,386.87 136.98,388.55 139.60,389.20 C142.22,389.85 145.60,390.32 148.60,390.40 C151.60,390.48 155.35,389.52 157.60,389.70 C159.85,389.88 160.62,390.27 162.10,391.50 C163.58,392.73 164.63,395.62 166.50,397.10 C168.37,398.58 171.43,399.77 173.30,400.40 C175.17,401.03 176.52,401.65 177.70,400.90 C178.88,400.15 179.65,398.40 180.40,395.90 C181.15,393.40 181.33,390.00 182.20,385.90 C183.07,381.80 184.47,375.88 185.60,371.30 C186.73,366.72 188.07,361.65 189.00,358.40 C189.93,355.15 190.60,353.47 191.20,351.80 C191.80,350.13 191.92,348.77 192.60,348.40 C193.28,348.03 193.53,348.77 195.28,349.60 C197.03,350.43 199.91,351.52 203.08,353.40 C206.25,355.28 210.55,358.68 214.28,360.90 C218.01,363.12 222.68,365.35 225.48,366.70 C228.28,368.05 228.83,367.88 231.08,369.00 C233.33,370.12 236.18,371.77 238.98,373.40 C241.78,375.03 244.60,376.90 247.88,378.80 C251.16,380.70 255.38,383.43 258.68,384.80 C261.98,386.17 264.70,386.72 267.68,387.00 C270.66,387.28 273.98,386.13 276.58,386.50 C279.18,386.87 280.66,388.55 283.28,389.20 C285.90,389.85 289.28,390.32 292.28,390.40 C295.28,390.48 299.03,389.52 301.28,389.70 C303.53,389.88 304.30,390.27 305.78,391.50 C307.26,392.73 308.31,395.62 310.18,397.10 C312.05,398.58 315.11,399.77 316.98,400.40 C318.85,401.03 320.20,401.65 321.38,400.90 C322.56,400.15 323.33,398.40 324.08,395.90 C324.83,393.40 325.01,390.00 325.88,385.90 C326.75,381.80 328.15,375.88 329.28,371.30 C330.41,366.72 331.75,361.65 332.68,358.40 C333.61,355.15 334.28,353.47 334.88,351.80 C335.48,350.13 335.67,348.77 336.28,348.40 C336.89,348.03 338.15,349.40 338.53,349.60" vector-effect="non-scaling-stroke"/></defs>
<g clip-path="url(#c11)">
<g fill="none" stroke="#000" stroke-width="0.9" stroke-opacity="0.08" filter="url(#bl)"><use href="#p11" transform="translate(-0.28,92.01) scale(1,0.754)"/><use href="#p11" transform="translate(0.07,32.96) scale(1,0.918)"/><use href="#p11" transform="translate(-0.49,22.63) scale(1,0.953)"/><use href="#p11" transform="translate(-0.53,75.11) scale(1,0.785)"/><use href="#p11" transform="translate(1.14,-39.92) scale(1,1.112)"/><use href="#p11" transform="translate(0.67,-113.09) scale(1,1.315)"/><use href="#p11" transform="translate(-0.53,-85.12) scale(1,1.231)"/><use href="#p11" transform="translate(-0.16,-55.86) scale(1,1.148)"/><use href="#p11" transform="translate(-0.44,-129.31) scale(1,1.350)"/><use href="#p11" transform="translate(-0.20,8.72) scale(1,0.996)"/><use href="#p11" transform="translate(0.57,-49.35) scale(1,1.136)"/><use href="#p11" transform="translate(-0.41,-43.60) scale(1,1.110)"/><use href="#p11" transform="translate(0.87,4.97) scale(1,0.982)"/><use href="#p11" transform="translate(0.61,-106.66) scale(1,1.275)"/><use href="#p11" transform="translate(-0.19,56.78) scale(1,0.841)"/><use href="#p11" transform="translate(-2.59,-12.59) scale(1,1.028)"/><use href="#p11" transform="translate(-0.59,-94.50) scale(1,1.248)"/><use href="#p11" transform="translate(-1.39,-50.11) scale(1,1.127)"/><use href="#p11" transform="translate(-0.78,-34.41) scale(1,1.094)"/><use href="#p11" transform="translate(-1.09,-57.07) scale(1,1.154)"/><use href="#p11" transform="translate(-1.10,-116.32) scale(1,1.311)"/><use href="#p11" transform="translate(1.04,-32.94) scale(1,1.087)"/><use href="#p11" transform="translate(1.01,86.47) scale(1,0.777)"/><use href="#p11" transform="translate(1.39,-46.95) scale(1,1.129)"/><use href="#p11" transform="translate(-0.79,-50.07) scale(1,1.133)"/><use href="#p11" transform="translate(0.36,-72.58) scale(1,1.201)"/><use href="#p11" transform="translate(-2.50,-11.47) scale(1,1.035)"/><use href="#p11" transform="translate(0.30,-32.88) scale(1,1.064)"/><use href="#p11" transform="translate(-0.43,-65.92) scale(1,1.191)"/><use href="#p11" transform="translate(-2.20,-31.95) scale(1,1.083)"/><use href="#p11" transform="translate(0.12,-50.98) scale(1,1.134)"/><use href="#p11" transform="translate(0.13,56.98) scale(1,0.846)"/><use href="#p11" transform="translate(3.59,-85.36) scale(1,1.229)"/><use href="#p11" transform="translate(-0.00,21.78) scale(1,0.938)"/><use href="#p11" transform="translate(0.70,53.70) scale(1,0.868)"/><use href="#p11" transform="translate(1.21,78.89) scale(1,0.789)"/><use href="#p11" transform="translate(-0.19,88.40) scale(1,0.764)"/><use href="#p11" transform="translate(-0.37,-152.98) scale(1,1.410)"/><use href="#p11" transform="translate(-0.42,38.91) scale(1,0.911)"/><use href="#p11" transform="translate(-0.15,-156.33) scale(1,1.402)"/><use href="#p11" transform="translate(-0.17,9.42) scale(1,0.967)"/><use href="#p11" transform="translate(-1.41,-50.55) scale(1,1.127)"/><use href="#p11" transform="translate(-0.65,-85.61) scale(1,1.240)"/><use href="#p11" transform="translate(1.10,-31.96) scale(1,1.061)"/><use href="#p11" transform="translate(2.24,80.43) scale(1,0.779)"/><use href="#p11" transform="translate(-1.04,77.95) scale(1,0.790)"/><use href="#p11" transform="translate(0.32,111.82) scale(1,0.689)"/><use href="#p11" transform="translate(0.78,78.76) scale(1,0.783)"/><use href="#p11" transform="translate(1.56,2.26) scale(1,0.981)"/><use href="#p11" transform="translate(-1.02,-6.70) scale(1,1.029)"/><use href="#p11" transform="translate(-1.72,-117.05) scale(1,1.299)"/><use href="#p11" transform="translate(0.31,22.58) scale(1,0.935)"/><use href="#p11" transform="translate(1.40,34.74) scale(1,0.911)"/><use href="#p11" transform="translate(-0.36,33.97) scale(1,0.895)"/><use href="#p11" transform="translate(-0.31,-53.69) scale(1,1.149)"/><use href="#p11" transform="translate(1.02,60.01) scale(1,0.838)"/><use href="#p11" transform="translate(0.27,46.89) scale(1,0.885)"/><use href="#p11" transform="translate(1.43,-24.33) scale(1,1.058)"/><use href="#p11" transform="translate(0.87,-11.29) scale(1,1.015)"/><use href="#p11" transform="translate(0.21,27.19) scale(1,0.935)"/></g>
<use href="#p11" fill="none" stroke="#f00" stroke-width="1.25"/>
<g fill="#000"><line x1="116.1" y1="383.2" x2="116.1" y2="390.0" stroke="#000" stroke-width="1"/><line x1="128.4" y1="389.5" x2="128.4" y2="396.3" stroke="#000" stroke-width="1"/><line x1="137.4" y1="385.2" x2="137.4" y2="392.0" stroke="#000" stroke-width="1"/><circle cx="54.5" cy="353.4" r="2.55"/><circle cx="63.4" cy="355.0" r="2.55"/><circle cx="89.7" cy="364.6" r="2.55"/><circle cx="100.9" cy="372.4" r="2.55"/><circle cx="98.6" cy="375.3" r="2.55"/><circle cx="108.7" cy="381.4" r="2.55"/><circle cx="116.6" cy="387.0" r="2.55"/><circle cx="116.1" cy="386.5" r="2.55"/><circle cx="126.2" cy="391.0" r="2.55"/><circle cx="128.4" cy="392.6" r="2.55"/><circle cx="136.3" cy="383.0" r="2.55"/><circle cx="137.4" cy="388.8" r="2.55"/><circle cx="144.6" cy="391.0" r="2.55"/><circle cx="171.0" cy="401.5" r="2.55"/><circle cx="179.5" cy="395.9" r="2.55"/><circle cx="181.8" cy="384.3" r="2.55"/><circle cx="190.7" cy="352.7" r="2.55"/></g><g fill="#000" transform="translate(143.68,0)"><line x1="116.1" y1="383.2" x2="116.1" y2="390.0" stroke="#000" stroke-width="1"/><line x1="128.4" y1="389.5" x2="128.4" y2="396.3" stroke="#000" stroke-width="1"/><line x1="137.4" y1="385.2" x2="137.4" y2="392.0" stroke="#000" stroke-width="1"/><circle cx="54.5" cy="353.4" r="2.55"/><circle cx="63.4" cy="355.0" r="2.55"/><circle cx="89.7" cy="364.6" r="2.55"/><circle cx="100.9" cy="372.4" r="2.55"/><circle cx="98.6" cy="375.3" r="2.55"/><circle cx="108.7" cy="381.4" r="2.55"/><circle cx="116.6" cy="387.0" r="2.55"/><circle cx="116.1" cy="386.5" r="2.55"/><circle cx="126.2" cy="391.0" r="2.55"/><circle cx="128.4" cy="392.6" r="2.55"/><circle cx="136.3" cy="383.0" r="2.55"/><circle cx="137.4" cy="388.8" r="2.55"/><circle cx="144.6" cy="391.0" r="2.55"/><circle cx="171.0" cy="401.5" r="2.55"/><circle cx="179.5" cy="395.9" r="2.55"/><circle cx="181.8" cy="384.3" r="2.55"/><circle cx="190.7" cy="352.7" r="2.55"/></g>
</g>
<text x="116.31" y="340.40" font-size="8.67" textLength="98.89" lengthAdjust="spacingAndGlyphs" text-anchor="middle" xml:space="preserve">&lt;F814W&gt; = 24.38±0.03</text>
<text x="116.31" y="349.30" font-size="8.67" textLength="103.75" lengthAdjust="spacingAndGlyphs" text-anchor="middle" xml:space="preserve">F814W Amp =  0.61±0.11</text>
<line x1="34.85" y1="343.8" x2="37.45" y2="343.8" stroke="#222" stroke-width="0.7"/>
<text x="33.65" y="347.30" font-size="8.80" textLength="17.81" lengthAdjust="spacingAndGlyphs" text-anchor="end" xml:space="preserve">24.0</text>
<line x1="34.85" y1="361.1" x2="37.45" y2="361.1" stroke="#222" stroke-width="0.7"/>
<text x="33.65" y="364.60" font-size="8.80" textLength="17.81" lengthAdjust="spacingAndGlyphs" text-anchor="end" xml:space="preserve">24.2</text>
<line x1="34.85" y1="378.4" x2="37.45" y2="378.4" stroke="#222" stroke-width="0.7"/>
<text x="33.65" y="381.90" font-size="8.80" textLength="17.81" lengthAdjust="spacingAndGlyphs" text-anchor="end" xml:space="preserve">24.4</text>
<line x1="34.85" y1="395.7" x2="37.45" y2="395.7" stroke="#222" stroke-width="0.7"/>
<text x="33.65" y="399.20" font-size="8.80" textLength="17.81" lengthAdjust="spacingAndGlyphs" text-anchor="end" xml:space="preserve">24.6</text>
<line x1="34.85" y1="413.0" x2="37.45" y2="413.0" stroke="#222" stroke-width="0.7"/>
<text x="33.65" y="416.50" font-size="8.80" textLength="17.81" lengthAdjust="spacingAndGlyphs" text-anchor="end" xml:space="preserve">24.8</text>
<text x="0.00" y="0.00" font-size="10.07" textLength="53.99" lengthAdjust="spacingAndGlyphs" text-anchor="middle" transform="translate(12.00,374.10) rotate(-90)" xml:space="preserve">F814W Mag</text>
<rect x="37.45" y="331.4" width="315.45" height="85.40" fill="none" stroke="#222" stroke-width="0.8"/>
<line x1="51.56" y1="329.09999999999997" x2="51.56" y2="331.4" stroke="#222" stroke-width="0.7"/>
<line x1="87.48" y1="329.09999999999997" x2="87.48" y2="331.4" stroke="#222" stroke-width="0.7"/>
<line x1="123.40" y1="329.09999999999997" x2="123.40" y2="331.4" stroke="#222" stroke-width="0.7"/>
<line x1="159.32" y1="329.09999999999997" x2="159.32" y2="331.4" stroke="#222" stroke-width="0.7"/>
<line x1="195.24" y1="329.09999999999997" x2="195.24" y2="331.4" stroke="#222" stroke-width="0.7"/>
<line x1="231.16" y1="329.09999999999997" x2="231.16" y2="331.4" stroke="#222" stroke-width="0.7"/>
<line x1="267.08" y1="329.09999999999997" x2="267.08" y2="331.4" stroke="#222" stroke-width="0.7"/>
<line x1="303.00" y1="329.09999999999997" x2="303.00" y2="331.4" stroke="#222" stroke-width="0.7"/>
<line x1="338.92" y1="329.09999999999997" x2="338.92" y2="331.4" stroke="#222" stroke-width="0.7"/>
<line x1="51.56" y1="416.8" x2="51.56" y2="419.40000000000003" stroke="#222" stroke-width="0.7"/>
<text x="51.56" y="427.60" font-size="8.80" textLength="17.81" lengthAdjust="spacingAndGlyphs" text-anchor="middle" xml:space="preserve">0.00</text>
<line x1="87.48" y1="416.8" x2="87.48" y2="419.40000000000003" stroke="#222" stroke-width="0.7"/>
<text x="87.48" y="427.60" font-size="8.80" textLength="17.81" lengthAdjust="spacingAndGlyphs" text-anchor="middle" xml:space="preserve">0.25</text>
<line x1="123.40" y1="416.8" x2="123.40" y2="419.40000000000003" stroke="#222" stroke-width="0.7"/>
<text x="123.40" y="427.60" font-size="8.80" textLength="17.81" lengthAdjust="spacingAndGlyphs" text-anchor="middle" xml:space="preserve">0.50</text>
<line x1="159.32" y1="416.8" x2="159.32" y2="419.40000000000003" stroke="#222" stroke-width="0.7"/>
<text x="159.32" y="427.60" font-size="8.80" textLength="17.81" lengthAdjust="spacingAndGlyphs" text-anchor="middle" xml:space="preserve">0.75</text>
<line x1="195.24" y1="416.8" x2="195.24" y2="419.40000000000003" stroke="#222" stroke-width="0.7"/>
<text x="195.24" y="427.60" font-size="8.80" textLength="17.81" lengthAdjust="spacingAndGlyphs" text-anchor="middle" xml:space="preserve">1.00</text>
<line x1="231.16" y1="416.8" x2="231.16" y2="419.40000000000003" stroke="#222" stroke-width="0.7"/>
<text x="231.16" y="427.60" font-size="8.80" textLength="17.81" lengthAdjust="spacingAndGlyphs" text-anchor="middle" xml:space="preserve">1.25</text>
<line x1="267.08" y1="416.8" x2="267.08" y2="419.40000000000003" stroke="#222" stroke-width="0.7"/>
<text x="267.08" y="427.60" font-size="8.80" textLength="17.81" lengthAdjust="spacingAndGlyphs" text-anchor="middle" xml:space="preserve">1.50</text>
<line x1="303.00" y1="416.8" x2="303.00" y2="419.40000000000003" stroke="#222" stroke-width="0.7"/>
<text x="303.00" y="427.60" font-size="8.80" textLength="17.81" lengthAdjust="spacingAndGlyphs" text-anchor="middle" xml:space="preserve">1.75</text>
<line x1="338.92" y1="416.8" x2="338.92" y2="419.40000000000003" stroke="#222" stroke-width="0.7"/>
<text x="338.92" y="427.60" font-size="8.80" textLength="17.81" lengthAdjust="spacingAndGlyphs" text-anchor="middle" xml:space="preserve">2.00</text>
<text x="195.17" y="438.40" font-size="10.07" textLength="27.32" lengthAdjust="spacingAndGlyphs" text-anchor="middle" xml:space="preserve">Phase</text>
<text x="75.58" y="241.90" font-size="10.07" textLength="97.35" lengthAdjust="spacingAndGlyphs" xml:space="preserve">ANDXXVIII - V003324</text>
<text x="200.78" y="241.90" font-size="10.07" textLength="113.71" lengthAdjust="spacingAndGlyphs" xml:space="preserve">Period = 0.6934±0.0034</text>
<clipPath id="c20"><rect x="42.5" y="476.55" width="310.4" height="85.59999999999997"/></clipPath>
<defs><path id="p20" d="M56.45,491.40 C56.98,491.57 58.58,491.70 59.60,492.40 C60.62,493.10 61.05,493.67 62.60,495.60 C64.15,497.53 66.73,502.03 68.90,504.00 C71.07,505.97 73.37,505.90 75.60,507.40 C77.83,508.90 80.05,511.13 82.30,513.00 C84.55,514.87 86.85,517.12 89.10,518.60 C91.35,520.08 93.20,520.42 95.80,521.90 C98.40,523.38 101.72,525.82 104.70,527.50 C107.68,529.18 111.48,530.75 113.70,532.00 C115.92,533.25 115.78,533.88 118.00,535.00 C120.22,536.12 124.02,537.70 127.00,538.70 C129.98,539.70 133.85,540.45 135.90,541.00 C137.95,541.55 138.18,542.00 139.30,542.00 C140.42,542.00 140.55,541.17 142.60,541.00 C144.65,540.83 148.60,541.27 151.60,541.00 C154.60,540.73 158.35,539.40 160.60,539.40 C162.85,539.40 163.23,540.00 165.10,541.00 C166.97,542.00 169.75,544.10 171.80,545.40 C173.85,546.70 175.92,548.62 177.40,548.80 C178.88,548.98 179.58,548.55 180.70,546.50 C181.82,544.45 182.97,540.78 184.10,536.50 C185.23,532.22 186.53,525.37 187.50,520.80 C188.47,516.23 189.12,512.48 189.90,509.10 C190.68,505.72 191.48,502.78 192.20,500.50 C192.92,498.22 193.53,496.75 194.20,495.40 C194.87,494.05 195.57,493.07 196.20,492.40 C196.82,491.73 197.13,491.40 197.95,491.40 C198.77,491.40 200.07,491.70 201.10,492.40 C202.12,493.10 202.55,493.67 204.10,495.60 C205.65,497.53 208.23,502.03 210.40,504.00 C212.57,505.97 214.87,505.90 217.10,507.40 C219.33,508.90 221.55,511.13 223.80,513.00 C226.05,514.87 228.35,517.12 230.60,518.60 C232.85,520.08 234.70,520.42 237.30,521.90 C239.90,523.38 243.22,525.82 246.20,527.50 C249.18,529.18 252.98,530.75 255.20,532.00 C257.42,533.25 257.28,533.88 259.50,535.00 C261.72,536.12 265.52,537.70 268.50,538.70 C271.48,539.70 275.35,540.45 277.40,541.00 C279.45,541.55 279.68,542.00 280.80,542.00 C281.92,542.00 282.05,541.17 284.10,541.00 C286.15,540.83 290.10,541.27 293.10,541.00 C296.10,540.73 299.85,539.40 302.10,539.40 C304.35,539.40 304.73,540.00 306.60,541.00 C308.47,542.00 311.25,544.10 313.30,545.40 C315.35,546.70 317.42,548.62 318.90,548.80 C320.38,548.98 321.08,548.55 322.20,546.50 C323.32,544.45 324.47,540.78 325.60,536.50 C326.73,532.22 328.03,525.37 329.00,520.80 C329.97,516.23 330.62,512.48 331.40,509.10 C332.18,505.72 332.98,502.78 333.70,500.50 C334.42,498.22 335.03,496.75 335.70,495.40 C336.37,494.05 337.07,493.07 337.70,492.40 C338.32,491.73 339.16,491.57 339.45,491.40" vector-effect="non-scaling-stroke"/></defs>
<g clip-path="url(#c20)">
<g fill="none" stroke="#000" stroke-width="0.9" stroke-opacity="0.08" filter="url(#bl)"><use href="#p20" transform="translate(-0.60,-37.14) scale(1,1.078)"/><use href="#p20" transform="translate(1.39,45.31) scale(1,0.914)"/><use href="#p20" transform="translate(-0.59,-25.60) scale(1,1.043)"/><use href="#p20" transform="translate(0.02,3.61) scale(1,0.998)"/><use href="#p20" transform="translate(0.16,16.10) scale(1,0.967)"/><use href="#p20" transform="translate(0.23,36.18) scale(1,0.930)"/><use href="#p20" transform="translate(0.78,-85.57) scale(1,1.164)"/><use href="#p20" transform="translate(0.15,53.01) scale(1,0.902)"/><use href="#p20" transform="translate(0.73,25.52) scale(1,0.950)"/><use href="#p20" transform="translate(1.22,17.43) scale(1,0.972)"/><use href="#p20" transform="translate(-0.97,-80.18) scale(1,1.162)"/><use href="#p20" transform="translate(0.77,-21.21) scale(1,1.037)"/><use href="#p20" transform="translate(0.39,-5.11) scale(1,1.011)"/><use href="#p20" transform="translate(-0.54,28.47) scale(1,0.945)"/><use href="#p20" transform="translate(0.04,-109.52) scale(1,1.208)"/><use href="#p20" transform="translate(-0.63,83.93) scale(1,0.830)"/><use href="#p20" transform="translate(0.25,-40.57) scale(1,1.082)"/><use href="#p20" transform="translate(-0.78,35.73) scale(1,0.941)"/><use href="#p20" transform="translate(-0.75,42.94) scale(1,0.920)"/><use href="#p20" transform="translate(-0.03,-13.00) scale(1,1.030)"/><use href="#p20" transform="translate(-0.50,-22.78) scale(1,1.044)"/><use href="#p20" transform="translate(0.02,156.60) scale(1,0.692)"/><use href="#p20" transform="translate(0.19,80.33) scale(1,0.842)"/><use href="#p20" transform="translate(-0.39,-74.13) scale(1,1.135)"/><use href="#p20" transform="translate(-1.06,-12.15) scale(1,1.026)"/><use href="#p20" transform="translate(0.89,-99.52) scale(1,1.187)"/><use href="#p20" transform="translate(1.34,9.38) scale(1,0.984)"/><use href="#p20" transform="translate(-0.76,-38.06) scale(1,1.073)"/><use href="#p20" transform="translate(1.62,27.61) scale(1,0.939)"/><use href="#p20" transform="translate(1.33,70.60) scale(1,0.850)"/><use href="#p20" transform="translate(0.69,-68.67) scale(1,1.130)"/><use href="#p20" transform="translate(0.42,38.69) scale(1,0.922)"/><use href="#p20" transform="translate(1.31,-23.51) scale(1,1.042)"/><use href="#p20" transform="translate(-0.91,-39.52) scale(1,1.076)"/><use href="#p20" transform="translate(-0.03,-9.93) scale(1,1.017)"/><use href="#p20" transform="translate(0.24,-44.78) scale(1,1.083)"/><use href="#p20" transform="translate(1.85,-42.04) scale(1,1.082)"/><use href="#p20" transform="translate(-0.91,87.82) scale(1,0.830)"/><use href="#p20" transform="translate(-1.28,8.60) scale(1,0.996)"/><use href="#p20" transform="translate(0.10,15.07) scale(1,0.974)"/><use href="#p20" transform="translate(0.80,-53.31) scale(1,1.094)"/><use href="#p20" transform="translate(0.47,44.21) scale(1,0.908)"/><use href="#p20" transform="translate(-0.63,-28.33) scale(1,1.050)"/><use href="#p20" transform="translate(-0.11,8.69) scale(1,0.983)"/><use href="#p20" transform="translate(1.06,44.35) scale(1,0.902)"/><use href="#p20" transform="translate(-1.23,-13.95) scale(1,1.020)"/><use href="#p20" transform="translate(-1.67,33.21) scale(1,0.933)"/><use href="#p20" transform="translate(-0.24,-72.45) scale(1,1.141)"/><use href="#p20" transform="translate(0.86,-18.72) scale(1,1.037)"/><use href="#p20" transform="translate(1.24,-5.70) scale(1,1.017)"/><use href="#p20" transform="translate(-0.69,13.65) scale(1,0.971)"/><use href="#p20" transform="translate(0.02,8.81) scale(1,0.979)"/><use href="#p20" transform="translate(-0.91,-15.44) scale(1,1.032)"/><use href="#p20" transform="translate(-0.08,-57.95) scale(1,1.109)"/><use href="#p20" transform="translate(0.21,19.93) scale(1,0.950)"/><use href="#p20" transform="translate(0.04,93.75) scale(1,0.825)"/><use href="#p20" transform="translate(0.57,-79.89) scale(1,1.157)"/><use href="#p20" transform="translate(1.24,-73.52) scale(1,1.141)"/><use href="#p20" transform="translate(-0.53,6.38) scale(1,0.989)"/><use href="#p20" transform="translate(-0.39,-27.17) scale(1,1.055)"/></g>
<use href="#p20" fill="none" stroke="#f00" stroke-width="1.25"/>
<g fill="#000"><circle cx="68.2" cy="503.5" r="2.55"/><circle cx="80.1" cy="508.9" r="2.55"/><circle cx="99.8" cy="527.1" r="2.55"/><circle cx="145.3" cy="539.8" r="2.55"/><circle cx="165.1" cy="540.5" r="2.55"/><circle cx="176.9" cy="548.3" r="2.55"/><circle cx="189.8" cy="509.3" r="2.55"/></g><g fill="#000" transform="translate(141.5,0)"><circle cx="68.2" cy="503.5" r="2.55"/><circle cx="80.1" cy="508.9" r="2.55"/><circle cx="99.8" cy="527.1" r="2.55"/><circle cx="145.3" cy="539.8" r="2.55"/><circle cx="165.1" cy="540.5" r="2.55"/><circle cx="176.9" cy="548.3" r="2.55"/><circle cx="189.8" cy="509.3" r="2.55"/></g>
</g>
<text x="120.10" y="485.55" font-size="8.67" textLength="98.89" lengthAdjust="spacingAndGlyphs" text-anchor="middle" xml:space="preserve">&lt;F606W&gt; = 25.47±0.03</text>
<text x="120.10" y="494.45" font-size="8.67" textLength="103.75" lengthAdjust="spacingAndGlyphs" text-anchor="middle" xml:space="preserve">F606W Amp =  0.70±0.11</text>
<line x1="39.9" y1="487.4" x2="42.5" y2="487.4" stroke="#222" stroke-width="0.7"/>
<text x="38.70" y="490.90" font-size="8.80" textLength="22.90" lengthAdjust="spacingAndGlyphs" text-anchor="end" xml:space="preserve">25.00</text>
<line x1="39.9" y1="507.4" x2="42.5" y2="507.4" stroke="#222" stroke-width="0.7"/>
<text x="38.70" y="510.90" font-size="8.80" textLength="22.90" lengthAdjust="spacingAndGlyphs" text-anchor="end" xml:space="preserve">25.25</text>
<line x1="39.9" y1="527.3" x2="42.5" y2="527.3" stroke="#222" stroke-width="0.7"/>
<text x="38.70" y="530.80" font-size="8.80" textLength="22.90" lengthAdjust="spacingAndGlyphs" text-anchor="end" xml:space="preserve">25.50</text>
<line x1="39.9" y1="547.2" x2="42.5" y2="547.2" stroke="#222" stroke-width="0.7"/>
<text x="38.70" y="550.70" font-size="8.80" textLength="22.90" lengthAdjust="spacingAndGlyphs" text-anchor="end" xml:space="preserve">25.75</text>
<text x="0.00" y="0.00" font-size="10.07" textLength="53.99" lengthAdjust="spacingAndGlyphs" text-anchor="middle" transform="translate(12.00,519.35) rotate(-90)" xml:space="preserve">F606W Mag</text>
<rect x="42.5" y="476.55" width="310.40" height="85.60" fill="none" stroke="#222" stroke-width="0.8"/>
<clipPath id="c21"><rect x="42.5" y="562.15" width="310.4" height="85.30000000000007"/></clipPath>
<defs><path id="p21" d="M56.45,579.40 C56.98,579.57 58.58,579.80 59.60,580.40 C60.62,581.00 61.27,581.83 62.60,583.00 C63.93,584.17 65.80,586.07 67.60,587.40 C69.40,588.73 71.58,589.78 73.40,591.00 C75.22,592.22 77.02,593.63 78.50,594.70 C79.98,595.77 80.17,595.88 82.30,597.40 C84.43,598.92 88.30,601.63 91.30,603.80 C94.30,605.97 97.18,608.35 100.30,610.40 C103.42,612.45 107.22,614.87 110.00,616.10 C112.78,617.33 114.90,617.10 117.00,617.80 C119.10,618.50 120.27,619.58 122.60,620.30 C124.93,621.02 128.20,621.48 131.00,622.10 C133.80,622.72 137.07,623.58 139.40,624.00 C141.73,624.42 143.23,624.52 145.00,624.60 C146.77,624.68 148.00,624.45 150.00,624.50 C152.00,624.55 154.90,624.75 157.00,624.90 C159.10,625.05 160.73,624.98 162.60,625.40 C164.47,625.82 166.45,626.70 168.20,627.40 C169.95,628.10 171.70,629.12 173.10,629.60 C174.50,630.08 175.43,630.32 176.60,630.30 C177.77,630.28 179.05,630.33 180.10,629.50 C181.15,628.67 181.97,627.52 182.90,625.30 C183.83,623.08 184.77,619.58 185.70,616.20 C186.63,612.82 187.68,608.27 188.50,605.00 C189.32,601.73 189.95,599.35 190.60,596.60 C191.25,593.85 191.80,590.77 192.40,588.50 C193.00,586.23 193.60,584.38 194.20,583.00 C194.80,581.62 195.38,580.80 196.00,580.20 C196.62,579.60 197.10,579.37 197.95,579.40 C198.80,579.43 200.07,579.80 201.10,580.40 C202.12,581.00 202.77,581.83 204.10,583.00 C205.43,584.17 207.30,586.07 209.10,587.40 C210.90,588.73 213.08,589.78 214.90,591.00 C216.72,592.22 218.52,593.63 220.00,594.70 C221.48,595.77 221.67,595.88 223.80,597.40 C225.93,598.92 229.80,601.63 232.80,603.80 C235.80,605.97 238.68,608.35 241.80,610.40 C244.92,612.45 248.72,614.87 251.50,616.10 C254.28,617.33 256.40,617.10 258.50,617.80 C260.60,618.50 261.77,619.58 264.10,620.30 C266.43,621.02 269.70,621.48 272.50,622.10 C275.30,622.72 278.57,623.58 280.90,624.00 C283.23,624.42 284.73,624.52 286.50,624.60 C288.27,624.68 289.50,624.45 291.50,624.50 C293.50,624.55 296.40,624.75 298.50,624.90 C300.60,625.05 302.23,624.98 304.10,625.40 C305.97,625.82 307.95,626.70 309.70,627.40 C311.45,628.10 313.20,629.12 314.60,629.60 C316.00,630.08 316.93,630.32 318.10,630.30 C319.27,630.28 320.55,630.33 321.60,629.50 C322.65,628.67 323.47,627.52 324.40,625.30 C325.33,623.08 326.27,619.58 327.20,616.20 C328.13,612.82 329.18,608.27 330.00,605.00 C330.82,601.73 331.45,599.35 332.10,596.60 C332.75,593.85 333.30,590.77 333.90,588.50 C334.50,586.23 335.10,584.38 335.70,583.00 C336.30,581.62 336.88,580.80 337.50,580.20 C338.12,579.60 339.12,579.53 339.45,579.40" vector-effect="non-scaling-stroke"/></defs>
<g clip-path="url(#c21)">
<g fill="none" stroke="#000" stroke-width="0.9" stroke-opacity="0.08" filter="url(#bl)"><use href="#p21" transform="translate(2.87,-32.83) scale(1,1.053)"/><use href="#p21" transform="translate(0.37,-32.20) scale(1,1.054)"/><use href="#p21" transform="translate(0.45,29.94) scale(1,0.947)"/><use href="#p21" transform="translate(-0.18,30.17) scale(1,0.954)"/><use href="#p21" transform="translate(-0.72,108.74) scale(1,0.813)"/><use href="#p21" transform="translate(-0.24,125.53) scale(1,0.792)"/><use href="#p21" transform="translate(-0.19,-62.15) scale(1,1.098)"/><use href="#p21" transform="translate(-0.86,-34.59) scale(1,1.060)"/><use href="#p21" transform="translate(1.00,-98.62) scale(1,1.160)"/><use href="#p21" transform="translate(-1.04,17.35) scale(1,0.969)"/><use href="#p21" transform="translate(-0.53,14.71) scale(1,0.987)"/><use href="#p21" transform="translate(-0.33,-93.81) scale(1,1.161)"/><use href="#p21" transform="translate(-0.25,-67.01) scale(1,1.117)"/><use href="#p21" transform="translate(0.30,36.60) scale(1,0.944)"/><use href="#p21" transform="translate(-0.96,-133.89) scale(1,1.223)"/><use href="#p21" transform="translate(0.63,-0.89) scale(1,0.995)"/><use href="#p21" transform="translate(-0.74,-46.36) scale(1,1.074)"/><use href="#p21" transform="translate(1.03,-58.37) scale(1,1.094)"/><use href="#p21" transform="translate(-0.45,61.03) scale(1,0.897)"/><use href="#p21" transform="translate(1.41,73.39) scale(1,0.891)"/><use href="#p21" transform="translate(-1.51,41.68) scale(1,0.934)"/><use href="#p21" transform="translate(-0.28,-76.98) scale(1,1.132)"/><use href="#p21" transform="translate(0.39,22.56) scale(1,0.963)"/><use href="#p21" transform="translate(-0.21,19.86) scale(1,0.963)"/><use href="#p21" transform="translate(0.08,28.88) scale(1,0.956)"/><use href="#p21" transform="translate(-0.32,-20.65) scale(1,1.026)"/><use href="#p21" transform="translate(-0.09,22.65) scale(1,0.960)"/><use href="#p21" transform="translate(0.80,13.81) scale(1,0.969)"/><use href="#p21" transform="translate(0.54,-60.88) scale(1,1.098)"/><use href="#p21" transform="translate(-0.16,54.42) scale(1,0.903)"/><use href="#p21" transform="translate(-1.27,-100.21) scale(1,1.165)"/><use href="#p21" transform="translate(-0.59,-18.36) scale(1,1.027)"/><use href="#p21" transform="translate(-1.49,-29.22) scale(1,1.039)"/><use href="#p21" transform="translate(0.11,94.06) scale(1,0.849)"/><use href="#p21" transform="translate(0.58,34.40) scale(1,0.939)"/><use href="#p21" transform="translate(0.25,-84.07) scale(1,1.135)"/><use href="#p21" transform="translate(-0.24,-151.04) scale(1,1.252)"/><use href="#p21" transform="translate(0.60,-24.12) scale(1,1.040)"/><use href="#p21" transform="translate(-0.06,-27.08) scale(1,1.042)"/><use href="#p21" transform="translate(0.10,-29.18) scale(1,1.045)"/><use href="#p21" transform="translate(1.35,58.44) scale(1,0.909)"/><use href="#p21" transform="translate(0.19,54.36) scale(1,0.914)"/><use href="#p21" transform="translate(0.27,-10.01) scale(1,1.015)"/><use href="#p21" transform="translate(0.90,-70.93) scale(1,1.111)"/><use href="#p21" transform="translate(0.00,10.08) scale(1,0.978)"/><use href="#p21" transform="translate(0.29,-44.22) scale(1,1.072)"/><use href="#p21" transform="translate(0.89,16.18) scale(1,0.970)"/><use href="#p21" transform="translate(0.33,58.59) scale(1,0.908)"/><use href="#p21" transform="translate(-0.20,13.34) scale(1,0.977)"/><use href="#p21" transform="translate(-0.07,-1.51) scale(1,1.002)"/><use href="#p21" transform="translate(0.33,112.60) scale(1,0.803)"/><use href="#p21" transform="translate(-0.09,34.45) scale(1,0.940)"/><use href="#p21" transform="translate(0.04,70.56) scale(1,0.891)"/><use href="#p21" transform="translate(0.78,4.23) scale(1,0.988)"/><use href="#p21" transform="translate(0.79,-44.97) scale(1,1.081)"/><use href="#p21" transform="translate(1.18,43.85) scale(1,0.921)"/><use href="#p21" transform="translate(-0.08,38.50) scale(1,0.936)"/><use href="#p21" transform="translate(-0.81,-33.60) scale(1,1.058)"/><use href="#p21" transform="translate(0.51,31.51) scale(1,0.939)"/><use href="#p21" transform="translate(0.91,1.42) scale(1,0.989)"/></g>
<use href="#p21" fill="none" stroke="#f00" stroke-width="1.25"/>
<g fill="#000"><line x1="146.5" y1="621.9" x2="146.5" y2="628.2" stroke="#000" stroke-width="1"/><line x1="152.1" y1="621.2" x2="152.1" y2="629.6" stroke="#000" stroke-width="1"/><line x1="159.5" y1="623.3" x2="159.5" y2="627.9" stroke="#000" stroke-width="1"/><line x1="165.0" y1="627.4" x2="165.0" y2="635.0" stroke="#000" stroke-width="1"/><line x1="178.7" y1="628.2" x2="178.7" y2="632.6" stroke="#000" stroke-width="1"/><circle cx="62.2" cy="583.3" r="2.55"/><circle cx="81.7" cy="596.3" r="2.55"/><circle cx="94.0" cy="606.1" r="2.55"/><circle cx="146.5" cy="625.0" r="2.55"/><circle cx="152.1" cy="625.3" r="2.55"/><circle cx="159.5" cy="625.6" r="2.55"/><circle cx="165.0" cy="630.3" r="2.55"/><circle cx="178.7" cy="630.5" r="2.55"/><circle cx="191.2" cy="594.0" r="2.55"/></g><g fill="#000" transform="translate(141.5,0)"><line x1="146.5" y1="621.9" x2="146.5" y2="628.2" stroke="#000" stroke-width="1"/><line x1="152.1" y1="621.2" x2="152.1" y2="629.6" stroke="#000" stroke-width="1"/><line x1="159.5" y1="623.3" x2="159.5" y2="627.9" stroke="#000" stroke-width="1"/><line x1="165.0" y1="627.4" x2="165.0" y2="635.0" stroke="#000" stroke-width="1"/><line x1="178.7" y1="628.2" x2="178.7" y2="632.6" stroke="#000" stroke-width="1"/><circle cx="62.2" cy="583.3" r="2.55"/><circle cx="81.7" cy="596.3" r="2.55"/><circle cx="94.0" cy="606.1" r="2.55"/><circle cx="146.5" cy="625.0" r="2.55"/><circle cx="152.1" cy="625.3" r="2.55"/><circle cx="159.5" cy="625.6" r="2.55"/><circle cx="165.0" cy="630.3" r="2.55"/><circle cx="178.7" cy="630.5" r="2.55"/><circle cx="191.2" cy="594.0" r="2.55"/></g>
</g>
<text x="120.10" y="571.15" font-size="8.67" textLength="98.89" lengthAdjust="spacingAndGlyphs" text-anchor="middle" xml:space="preserve">&lt;F814W&gt; = 24.86±0.03</text>
<text x="120.10" y="580.05" font-size="8.67" textLength="103.75" lengthAdjust="spacingAndGlyphs" text-anchor="middle" xml:space="preserve">F814W Amp =  0.59±0.09</text>
<line x1="39.9" y1="571.0" x2="42.5" y2="571.0" stroke="#222" stroke-width="0.7"/>
<text x="38.70" y="574.50" font-size="8.80" textLength="17.81" lengthAdjust="spacingAndGlyphs" text-anchor="end" xml:space="preserve">24.4</text>
<line x1="39.9" y1="588.1" x2="42.5" y2="588.1" stroke="#222" stroke-width="0.7"/>
<text x="38.70" y="591.60" font-size="8.80" textLength="17.81" lengthAdjust="spacingAndGlyphs" text-anchor="end" xml:space="preserve">24.6</text>
<line x1="39.9" y1="605.3" x2="42.5" y2="605.3" stroke="#222" stroke-width="0.7"/>
<text x="38.70" y="608.80" font-size="8.80" textLength="17.81" lengthAdjust="spacingAndGlyphs" text-anchor="end" xml:space="preserve">24.8</text>
<line x1="39.9" y1="622.4" x2="42.5" y2="622.4" stroke="#222" stroke-width="0.7"/>
<text x="38.70" y="625.90" font-size="8.80" textLength="17.81" lengthAdjust="spacingAndGlyphs" text-anchor="end" xml:space="preserve">25.0</text>
<line x1="39.9" y1="639.6" x2="42.5" y2="639.6" stroke="#222" stroke-width="0.7"/>
<text x="38.70" y="643.10" font-size="8.80" textLength="17.81" lengthAdjust="spacingAndGlyphs" text-anchor="end" xml:space="preserve">25.2</text>
<text x="0.00" y="0.00" font-size="10.07" textLength="53.99" lengthAdjust="spacingAndGlyphs" text-anchor="middle" transform="translate(17.20,604.80) rotate(-90)" xml:space="preserve">F814W Mag</text>
<rect x="42.5" y="562.15" width="310.40" height="85.30" fill="none" stroke="#222" stroke-width="0.8"/>
<line x1="56.45" y1="559.85" x2="56.45" y2="562.15" stroke="#222" stroke-width="0.7"/>
<line x1="91.83" y1="559.85" x2="91.83" y2="562.15" stroke="#222" stroke-width="0.7"/>
<line x1="127.20" y1="559.85" x2="127.20" y2="562.15" stroke="#222" stroke-width="0.7"/>
<line x1="162.57" y1="559.85" x2="162.57" y2="562.15" stroke="#222" stroke-width="0.7"/>
<line x1="197.95" y1="559.85" x2="197.95" y2="562.15" stroke="#222" stroke-width="0.7"/>
<line x1="233.32" y1="559.85" x2="233.32" y2="562.15" stroke="#222" stroke-width="0.7"/>
<line x1="268.70" y1="559.85" x2="268.70" y2="562.15" stroke="#222" stroke-width="0.7"/>
<line x1="304.07" y1="559.85" x2="304.07" y2="562.15" stroke="#222" stroke-width="0.7"/>
<line x1="339.45" y1="559.85" x2="339.45" y2="562.15" stroke="#222" stroke-width="0.7"/>
<line x1="56.45" y1="647.45" x2="56.45" y2="650.0500000000001" stroke="#222" stroke-width="0.7"/>
<text x="56.45" y="658.25" font-size="8.80" textLength="17.81" lengthAdjust="spacingAndGlyphs" text-anchor="middle" xml:space="preserve">0.00</text>
<line x1="91.83" y1="647.45" x2="91.83" y2="650.0500000000001" stroke="#222" stroke-width="0.7"/>
<text x="91.83" y="658.25" font-size="8.80" textLength="17.81" lengthAdjust="spacingAndGlyphs" text-anchor="middle" xml:space="preserve">0.25</text>
<line x1="127.20" y1="647.45" x2="127.20" y2="650.0500000000001" stroke="#222" stroke-width="0.7"/>
<text x="127.20" y="658.25" font-size="8.80" textLength="17.81" lengthAdjust="spacingAndGlyphs" text-anchor="middle" xml:space="preserve">0.50</text>
<line x1="162.57" y1="647.45" x2="162.57" y2="650.0500000000001" stroke="#222" stroke-width="0.7"/>
<text x="162.57" y="658.25" font-size="8.80" textLength="17.81" lengthAdjust="spacingAndGlyphs" text-anchor="middle" xml:space="preserve">0.75</text>
<line x1="197.95" y1="647.45" x2="197.95" y2="650.0500000000001" stroke="#222" stroke-width="0.7"/>
<text x="197.95" y="658.25" font-size="8.80" textLength="17.81" lengthAdjust="spacingAndGlyphs" text-anchor="middle" xml:space="preserve">1.00</text>
<line x1="233.32" y1="647.45" x2="233.32" y2="650.0500000000001" stroke="#222" stroke-width="0.7"/>
<text x="233.32" y="658.25" font-size="8.80" textLength="17.81" lengthAdjust="spacingAndGlyphs" text-anchor="middle" xml:space="preserve">1.25</text>
<line x1="268.70" y1="647.45" x2="268.70" y2="650.0500000000001" stroke="#222" stroke-width="0.7"/>
<text x="268.70" y="658.25" font-size="8.80" textLength="17.81" lengthAdjust="spacingAndGlyphs" text-anchor="middle" xml:space="preserve">1.50</text>
<line x1="304.07" y1="647.45" x2="304.07" y2="650.0500000000001" stroke="#222" stroke-width="0.7"/>
<text x="304.07" y="658.25" font-size="8.80" textLength="17.81" lengthAdjust="spacingAndGlyphs" text-anchor="middle" xml:space="preserve">1.75</text>
<line x1="339.45" y1="647.45" x2="339.45" y2="650.0500000000001" stroke="#222" stroke-width="0.7"/>
<text x="339.45" y="658.25" font-size="8.80" textLength="17.81" lengthAdjust="spacingAndGlyphs" text-anchor="middle" xml:space="preserve">2.00</text>
<text x="197.70" y="669.05" font-size="10.07" textLength="27.32" lengthAdjust="spacingAndGlyphs" text-anchor="middle" xml:space="preserve">Phase</text>
<text x="81.28" y="472.40" font-size="10.07" textLength="82.12" lengthAdjust="spacingAndGlyphs" xml:space="preserve">ANDXII - V004614</text>
<text x="199.78" y="472.40" font-size="10.07" textLength="113.71" lengthAdjust="spacingAndGlyphs" xml:space="preserve">Period = 0.5887±0.0055</text>
</svg></body></html>
